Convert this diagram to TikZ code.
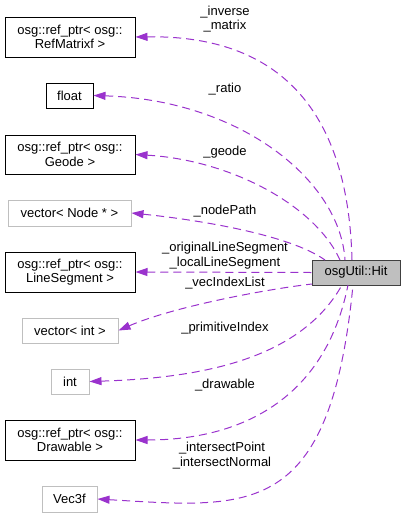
\documentclass[tikz,border=0pt]{standalone}
\usepackage{fontspec}
\setmainfont{Liberation Sans}
\usetikzlibrary{arrows.meta}
\definecolor{edgec}{HTML}{9A32CD}
\definecolor{graybd}{HTML}{BFBFBF}
\definecolor{hitfill}{HTML}{BFBFBF}
\definecolor{hitbd}{HTML}{404040}
\begin{document}
\begin{tikzpicture}[x=1pt,y=-1pt,
  every node/.style={font=\fontsize{13}{14.5}\selectfont, inner sep=0pt, align=center},
  cls/.style={draw=black, line width=1pt, rectangle},
  ext/.style={draw=graybd, line width=1pt, rectangle},
  lbl/.style={text=black},
  rel/.style={draw=edgec, dash pattern=on 8pt off 5pt, line width=1pt,
    {Triangle[length=12pt,width=8pt,fill=edgec]}-},
]
\useasboundingbox (0,0) rectangle (405,517);
\node[cls, minimum width=130pt, minimum height=40pt] (rm) at (70,37) {osg::ref\_ptr\textless{} osg::\\RefMatrixf \textgreater};
\node[cls, minimum width=47pt, minimum height=25pt] (fl) at (69.5,95.5) {float};
\node[cls, minimum width=130pt, minimum height=39pt] (ge) at (70,154.5) {osg::ref\_ptr\textless{} osg::\\Geode \textgreater};
\node[ext, minimum width=123pt, minimum height=26pt] (np) at (69.5,213) {vector\textless{} Node * \textgreater};
\node[cls, minimum width=130pt, minimum height=40pt] (ls) at (70,272) {osg::ref\_ptr\textless{} osg::\\LineSegment \textgreater};
\node[ext, minimum width=96pt, minimum height=25pt] (vi) at (70,330.5) {vector\textless{} int \textgreater};
\node[ext, minimum width=38pt, minimum height=25pt] (in) at (70,381.5) {int};
\node[cls, minimum width=130pt, minimum height=40pt] (dr) at (70,440) {osg::ref\_ptr\textless{} osg::\\Drawable \textgreater};
\node[ext, minimum width=55pt, minimum height=26pt] (v3) at (69.5,499) {Vec3f};
\node[draw=hitbd, fill=hitfill, line width=1pt, minimum width=88pt, minimum height=25pt] (hit) at (356,272.5) {osgUtil::Hit};

\coordinate (h1) at (352,260);
\coordinate (h2) at (345,260);
\coordinate (h3) at (340,260);
\coordinate (h4) at (325,260);
\coordinate (h6) at (312,284);
\coordinate (h7) at (342,285);
\coordinate (h8) at (348,285);
\coordinate (h9) at (353,285);

\draw[rel] (rm.east) .. controls (270,35) and (348,100) .. (h1);
\draw[rel] (fl.east) .. controls (240,100) and (340,180) .. (h2);
\draw[rel] (ge.east) .. controls (230,160) and (315,205) .. (h3);
\draw[rel] (np.east) .. controls (200,220) and (290,235) .. (h4);
\draw[rel] (ls.east) -- (hit.west);
\draw[rel] (vi.east) .. controls (170,308) and (260,290) .. (h6);
\draw[rel] (in.east) .. controls (200,378) and (300,360) .. (h7);
\draw[rel] (dr.east) .. controls (240,440) and (325,400) .. (h8);
\draw[rel] (v3.east) .. controls (250,508) and (330,520) .. (h9);

\node[lbl] (l1) at (225,19) {\_inverse\\\_matrix};
\node[lbl] (l2) at (225,89) {\_ratio};
\node[lbl] (l3) at (225,152) {\_geode};
\node[lbl] (l4) at (225,211) {\_nodePath};
\node[lbl] (l5) at (225,255.5) {\_originalLineSegment\\\_localLineSegment};
\node[lbl] (l6) at (225,283) {\_vecIndexList};
\node[lbl] (l7) at (225,328) {\_primitiveIndex};
\node[lbl] (l8) at (225,385) {\_drawable};
\node[lbl] (l9) at (222,455.5) {\_intersectPoint\\\_intersectNormal};
\end{tikzpicture}
\end{document}
